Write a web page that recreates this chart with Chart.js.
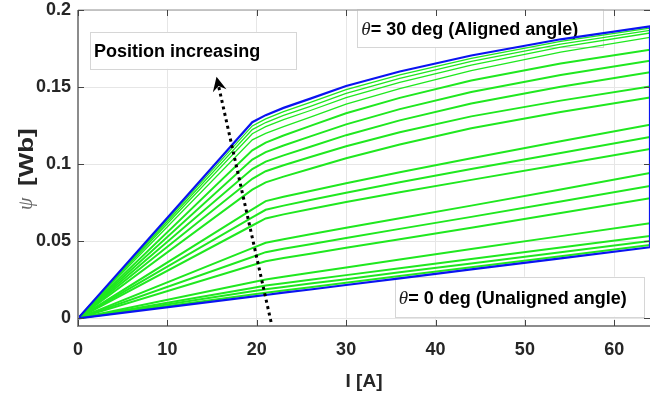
<!DOCTYPE html>
<html>
<head>
<meta charset="utf-8">
<script src="https://cdn.jsdelivr.net/npm/chart.js@4.4.0/dist/chart.umd.min.js"></script>
<style>
  html, body { margin: 0; padding: 0; background: #fff; }
  #wrap { width: 671px; height: 401px; }
</style>
</head>
<body>
<div id="wrap"><canvas id="psiChart" width="671" height="401"></canvas></div>
<script>
// current samples [A]
const current = [0, 19.5, 21, 23, 26, 30, 36, 44, 54, 64];

// flux linkage [Wb] at the two extreme rotor positions
const psiAligned   = [0, 0.1272, 0.1318, 0.1365, 0.1425, 0.1507, 0.1601, 0.1705, 0.1810, 0.1894];
const psiUnaligned = [0, 0.0140, 0.0151, 0.0166, 0.0187, 0.0216, 0.0259, 0.0317, 0.0389, 0.0461];

// intermediate rotor positions (deg)
const psi28_5 = [0, 0.1248, 0.1294, 0.1341, 0.1401, 0.1484, 0.1579, 0.1686, 0.1796, 0.1883];
const psi27   = [0, 0.1224, 0.1270, 0.1316, 0.1375, 0.1459, 0.1556, 0.1666, 0.1779, 0.1868];
const psi25_5 = [0, 0.1197, 0.1243, 0.1289, 0.1348, 0.1432, 0.1530, 0.1643, 0.1759, 0.1851];
const psi24   = [0, 0.1158, 0.1200, 0.1243, 0.1305, 0.1390, 0.1490, 0.1607, 0.1727, 0.1822];
const psi22_5 = [0, 0.1090, 0.1140, 0.1186, 0.1248, 0.1330, 0.1430, 0.1543, 0.1653, 0.1742];
const psi21   = [0, 0.1030, 0.1078, 0.1121, 0.1180, 0.1258, 0.1357, 0.1468, 0.1578, 0.1671];
const psi19_5 = [0, 0.0968, 0.1016, 0.1057, 0.1113, 0.1188, 0.1284, 0.1394, 0.1502, 0.1597];
const psi18   = [0, 0.0905, 0.0954, 0.0993, 0.1046, 0.1116, 0.1207, 0.1310, 0.1412, 0.1504];
const psi16_5 = [0, 0.0835, 0.0882, 0.0919, 0.0970, 0.1038, 0.1128, 0.1233, 0.1338, 0.1432];
const psi15   = [0, 0.0706, 0.0760, 0.0788, 0.0826, 0.0876, 0.0947, 0.1038, 0.1149, 0.1255];
const psi13_5 = [0, 0.0654, 0.0704, 0.0731, 0.0768, 0.0815, 0.0882, 0.0968, 0.1073, 0.1177];
const psi12   = [0, 0.0602, 0.0648, 0.0674, 0.0709, 0.0754, 0.0817, 0.0898, 0.0998, 0.1099];
const psi10_5 = [0, 0.0455, 0.0490, 0.0513, 0.0545, 0.0587, 0.0649, 0.0731, 0.0836, 0.0942];
const psi9    = [0, 0.0398, 0.0429, 0.0451, 0.0481, 0.0521, 0.0580, 0.0658, 0.0758, 0.0859];
const psi7_5  = [0, 0.0344, 0.0370, 0.0391, 0.0419, 0.0457, 0.0513, 0.0588, 0.0683, 0.0779];
const psi6    = [0, 0.0234, 0.0252, 0.0270, 0.0296, 0.0330, 0.0381, 0.0449, 0.0533, 0.0617];
const psi4_5  = [0, 0.0197, 0.0212, 0.0227, 0.0250, 0.0280, 0.0325, 0.0385, 0.0460, 0.0534];
const psi3    = [0, 0.0175, 0.0188, 0.0203, 0.0225, 0.0254, 0.0298, 0.0356, 0.0429, 0.0502];
const psi1_5  = [0, 0.0154, 0.0166, 0.0180, 0.0202, 0.0231, 0.0274, 0.0331, 0.0403, 0.0476];

const midCurves = [psi28_5, psi27, psi25_5, psi24, psi22_5, psi21, psi19_5, psi18, psi16_5,
  psi15, psi13_5, psi12, psi10_5, psi9, psi7_5, psi6, psi4_5, psi3, psi1_5];

const xTickVals = [0, 10, 20, 30, 40, 50, 60];
const yTickVals = [0, 0.05, 0.1, 0.15, 0.2];

const FONT = '"Liberation Sans", Arial, Helvetica, sans-serif';
const SERIF = '"Liberation Serif", "DejaVu Serif", serif';

const pts = arr => current.map((x, i) => ({ x, y: arr[i] }));

// unaligned out to 64 A, up the right edge, back along the aligned curve
const blueLoop = pts(psiUnaligned).concat(pts(psiAligned).reverse());

const datasets = midCurves.map((c, i) => ({
  data: pts(c),
  borderColor: "#1fe81f",
  borderWidth: i < 4 ? 1.3 : 2,
  order: 2
}));
datasets.push({ data: blueLoop, borderColor: "#0a14f0", borderWidth: 2.2, order: 1 });

// annotations, in data units
const notes = [
  { box: [1.3, 24.3, 0.1618, 0.1857], at: [1.8, 0.1695], theta: false, text: "Position increasing" },
  { box: [31.2, 58.7, 0.1760, 0.2005], at: [31.7, 0.1838], theta: true, text: "= 30 deg (Aligned angle)" },
  { box: [35.5, 63.4, 0.0010, 0.0270], at: [35.9, 0.0093], theta: true, text: "= 0 deg (Unaligned angle)" }
];
const arrowTail = [21.6, -0.0024];
const arrowTip = [15.5, 0.1567];

const decor = {
  id: "decor",
  beforeDatasetsDraw(chart) {
    const { ctx, scales: { x, y } } = chart;
    ctx.save();
    notes.forEach(n => {
      const l = x.getPixelForValue(n.box[0]), r = x.getPixelForValue(n.box[1]);
      const t = y.getPixelForValue(n.box[3]), b = y.getPixelForValue(n.box[2]);
      ctx.fillStyle = "#fff";
      ctx.fillRect(l, t, r - l, b - t);
      ctx.strokeStyle = "#d6d6d6";
      ctx.lineWidth = 1;
      ctx.strokeRect(Math.round(l) + 0.5, Math.round(t) + 0.5, Math.round(r - l), Math.round(b - t));
      let tx = x.getPixelForValue(n.at[0]);
      const ty = y.getPixelForValue(n.at[1]);
      ctx.textBaseline = "alphabetic";
      ctx.textAlign = "left";
      if (n.theta) {
        ctx.font = "italic 19px " + SERIF;
        ctx.fillStyle = "#222";
        ctx.fillText("θ", tx, ty);
        tx += ctx.measureText("θ").width;
      }
      ctx.font = "bold 18px " + FONT;
      ctx.fillStyle = "#000";
      ctx.fillText(n.text, tx, ty);
    });
    ctx.restore();
  },
  afterDatasetsDraw(chart) {
    const { ctx, chartArea: a, scales: { x, y } } = chart;
    ctx.save();
    // box
    ctx.strokeStyle = "#b4b4b4";
    ctx.lineWidth = 1.5;
    ctx.beginPath();
    ctx.moveTo(a.left, a.top); ctx.lineTo(a.right, a.top);
    ctx.stroke();
    ctx.strokeStyle = "#8c8c8c";
    ctx.lineWidth = 2;
    ctx.beginPath();
    ctx.moveTo(a.left, a.top); ctx.lineTo(a.left, a.bottom); ctx.lineTo(a.right, a.bottom);
    ctx.stroke();
    // inward ticks
    ctx.strokeStyle = "#444";
    ctx.lineWidth = 1;
    ctx.beginPath();
    xTickVals.forEach(v => {
      const p = Math.round(x.getPixelForValue(v)) + 0.5;
      ctx.moveTo(p, a.bottom); ctx.lineTo(p, a.bottom - 6);
      ctx.moveTo(p, a.top); ctx.lineTo(p, a.top + 6);
    });
    yTickVals.forEach(v => {
      const p = Math.round(y.getPixelForValue(v)) + 0.5;
      ctx.moveTo(a.left, p); ctx.lineTo(a.left + 6, p);
      ctx.moveTo(a.right, p); ctx.lineTo(a.right - 6, p);
    });
    ctx.stroke();

    // dotted arrow
    const x0 = x.getPixelForValue(arrowTail[0]), y0 = y.getPixelForValue(arrowTail[1]);
    const x1 = x.getPixelForValue(arrowTip[0]), y1 = y.getPixelForValue(arrowTip[1]);
    const ang = Math.atan2(y1 - y0, x1 - x0);
    const head = 16;
    ctx.strokeStyle = "#000";
    ctx.lineWidth = 3;
    ctx.setLineDash([3, 3.6]);
    ctx.beginPath();
    ctx.moveTo(x0, y0);
    ctx.lineTo(x1 - Math.cos(ang) * head * 0.6, y1 - Math.sin(ang) * head * 0.6);
    ctx.stroke();
    ctx.setLineDash([]);
    ctx.fillStyle = "#000";
    ctx.beginPath();
    ctx.moveTo(x1, y1);
    ctx.lineTo(x1 - Math.cos(ang - 0.45) * head, y1 - Math.sin(ang - 0.45) * head);
    ctx.lineTo(x1 - Math.cos(ang) * head * 0.6, y1 - Math.sin(ang) * head * 0.6);
    ctx.lineTo(x1 - Math.cos(ang + 0.45) * head, y1 - Math.sin(ang + 0.45) * head);
    ctx.closePath();
    ctx.fill();

    // axis titles
    ctx.fillStyle = "#262626";
    ctx.font = "bold 19px " + FONT;
    ctx.textAlign = "center";
    ctx.textBaseline = "middle";
    ctx.fillText("I [A]", (a.left + a.right) / 2, 382);

    ctx.translate(27, 210);
    ctx.rotate(-Math.PI / 2);
    ctx.textAlign = "left";
    ctx.textBaseline = "middle";
    ctx.font = "italic 20px " + SERIF;
    ctx.fillStyle = "#666";
    ctx.fillText("ψ", 0, 0);
    ctx.fillStyle = "#262626";
    ctx.font = "bold 20px " + FONT;
    ctx.translate(24, 0);
    ctx.scale(1.3, 1);
    ctx.fillText("[Wb]", 0, 0);
    ctx.restore();
  }
};

new Chart(document.getElementById("psiChart"), {
  type: "scatter",
  data: { datasets },
  options: {
    responsive: false,
    animation: false,
    showLine: true,
    elements: { point: { radius: 0 }, line: { tension: 0 } },
    layout: { padding: { top: 10, right: 21, left: 0, bottom: 0 } },
    plugins: { legend: { display: false }, tooltip: { enabled: false } },
    scales: {
      x: {
        type: "linear", min: 0, max: 64,
        afterBuildTicks: s => { s.ticks = xTickVals.map(v => ({ value: v })); },
        afterFit: s => { s.height = 75; },
        grid: { color: "#e6e6e6", drawTicks: false },
        border: { display: false },
        ticks: { padding: 13, color: "#262626", font: { family: FONT, size: 18, weight: "bold" } }
      },
      y: {
        type: "linear", min: -0.005, max: 0.2,
        afterBuildTicks: s => { s.ticks = yTickVals.map(v => ({ value: v })); },
        afterFit: s => { s.width = 78; },
        grid: { color: "#e6e6e6", drawTicks: false },
        border: { display: false },
        // small lineHeight so the top label does not push the plot down
        ticks: { padding: 7, color: "#262626", font: { family: FONT, size: 18, weight: "bold", lineHeight: 0.3 },
          callback: v => String(v) }
      }
    }
  },
  plugins: [decor]
});
</script>
</body>
</html>
